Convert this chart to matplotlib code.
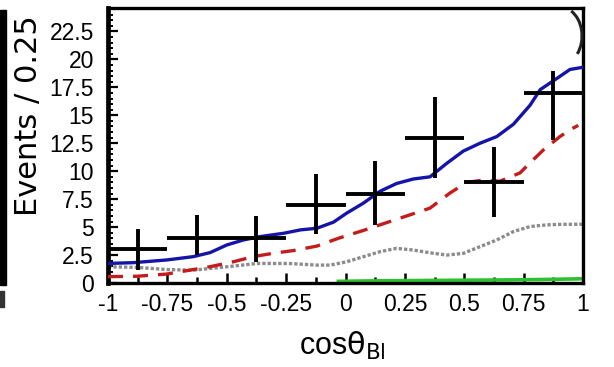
import numpy as np
import matplotlib
matplotlib.use("Agg")
import matplotlib.pyplot as plt
from matplotlib.ticker import MultipleLocator, FormatStrFormatter
from matplotlib.patches import Rectangle, Arc

# data points (bins of 0.25)
bin_centers = [-0.875, -0.625, -0.375, -0.125, 0.125, 0.375, 0.625, 0.875]
events = [3, 4, 4, 7, 8, 13, 9, 17]
err_lo = [1.8, 1.5, 2.1, 2.6, 2.85, 3.6, 3.1, 4.2]
err_hi = [1.8, 2.1, 2.0, 2.75, 2.9, 3.6, 3.2, 2.0]

# total fit (blue)
tot_x = [-1.0, -0.893, -0.753, -0.64, -0.57, -0.5, -0.43, -0.36, -0.26, -0.19,
         -0.12, -0.05, 0.005, 0.075, 0.145, 0.215, 0.285, 0.356, 0.426, 0.496,
         0.566, 0.637, 0.707, 0.777, 0.82, 0.89, 0.945, 1.0]
tot_y = [1.75, 1.82, 2.06, 2.36, 2.72, 3.4, 3.85, 4.15, 4.45, 4.75,
         4.9, 5.45, 6.25, 7.14, 8.2, 8.9, 9.3, 9.5, 10.7, 11.8,
         12.5, 13.1, 14.2, 15.9, 17.3, 18.3, 19.1, 19.3]

# signal component (red dashed)
sig_x = [-1.0, -0.88, -0.753, -0.669, -0.57, -0.472, -0.388, -0.304, -0.22, -0.121,
         -0.03, 0.075, 0.187, 0.272, 0.356, 0.44, 0.51, 0.58, 0.65, 0.735,
         0.777, 0.833, 0.903, 0.945, 0.98]
sig_y = [0.57, 0.6, 0.8, 1.1, 1.46, 1.9, 2.36, 2.66, 2.9, 3.3,
         4.0, 4.7, 5.5, 6.1, 6.7, 8.05, 9.0, 9.2, 9.1, 9.85,
         10.75, 11.9, 13.1, 13.7, 14.1]

# background component (grey dotted)
bkg_x = [-1.0, -0.88, -0.75, -0.64, -0.5, -0.37, -0.24, -0.12, -0.065, 0.005,
         0.075, 0.145, 0.215, 0.285, 0.356, 0.426, 0.496, 0.566, 0.637, 0.707,
         0.777, 0.847, 0.917, 1.0]
bkg_y = [1.45, 1.4, 1.2, 1.15, 1.45, 1.75, 1.75, 1.6, 1.6, 1.9,
         2.35, 2.8, 3.1, 2.95, 2.7, 2.5, 2.65, 3.25, 3.85, 4.6,
         5.05, 5.2, 5.25, 5.25]

# small component (green)
oth_x = [-0.03, 0.15, 0.3, 0.5, 0.7, 0.85, 1.0]
oth_y = [0.15, 0.2, 0.22, 0.25, 0.28, 0.32, 0.38]

NARROW = ["Liberation Sans Narrow", "Liberation Sans", "DejaVu Sans"]
plt.rcParams["font.family"] = NARROW
plt.rcParams["mathtext.fontset"] = "custom"
plt.rcParams["mathtext.rm"] = "Liberation Sans Narrow"
plt.rcParams["mathtext.it"] = "Liberation Sans Narrow"

fig = plt.figure(figsize=(6.14, 3.67), dpi=100)
ax = fig.add_axes([108 / 614, 1 - 283 / 367, 475 / 614, 275 / 367])

ax.plot(oth_x, oth_y, color="#2ec02e", lw=2.6, zorder=2)
ax.plot(bkg_x, bkg_y, color="#8c8c8c", lw=2.4, ls=(0, (1.0, 0.6)), zorder=2)
ax.plot(sig_x, sig_y, color="#c41c1c", lw=2.4, ls=(0, (4.5, 3.0)), zorder=3)
ax.plot(tot_x, tot_y, color="#1414a8", lw=2.4, zorder=4)
ax.errorbar(bin_centers, events, xerr=0.125, yerr=[err_lo, err_hi],
            fmt="none", ecolor="black", elinewidth=2.8, capsize=0, zorder=5)

ax.set_xlim(-1, 1)
ax.set_ylim(0, 24.6)

ax.xaxis.set_major_locator(MultipleLocator(0.25))
ax.xaxis.set_minor_locator(MultipleLocator(0.125))
ax.yaxis.set_major_locator(MultipleLocator(2.5))
ax.yaxis.set_minor_locator(MultipleLocator(0.5))
ax.xaxis.set_major_formatter(FormatStrFormatter("%g"))
ax.yaxis.set_major_formatter(FormatStrFormatter("%g"))

ax.tick_params(axis="both", which="both", direction="in", top=False, right=False,
               colors="black")
ax.tick_params(axis="x", which="major", length=7, width=1.8, pad=7, labelsize=16.5)
ax.tick_params(axis="x", which="minor", length=4, width=1.8)
ax.tick_params(axis="y", which="major", length=7, width=1.6, pad=10, labelsize=16.5)
ax.tick_params(axis="y", which="minor", length=3.5, width=1.4)

for side in ["top", "right", "bottom"]:
    ax.spines[side].set_linewidth(2.4)
ax.spines["left"].set_linewidth(3.4)

fig.text(342 / 614, 1 - 355 / 367, r"cos$\theta_{Bl}$", ha="center", va="baseline",
         fontsize=22, family=NARROW)
fig.text(29 / 614, 1 - 116 / 367, "Events / 0.25", rotation=90, ha="center",
         va="center", fontsize=22, family="DejaVu Sans")

# bits of the neighbouring panel
fig.patches.append(Rectangle((0, 1 - 285 / 367), 6 / 614, 275 / 367,
                             transform=fig.transFigure, color="black"))
fig.patches.append(Rectangle((0, 1 - 307 / 367), 4 / 614, 16 / 367,
                             transform=fig.transFigure, color="#333333"))
fig.patches.append(Arc((560 / 614, 1 - 36 / 367), 44 / 614, 58 / 367,
                       theta1=-60, theta2=75, transform=fig.transFigure,
                       color="#222222", lw=2.2))

fig.savefig("out.png", dpi=100)
